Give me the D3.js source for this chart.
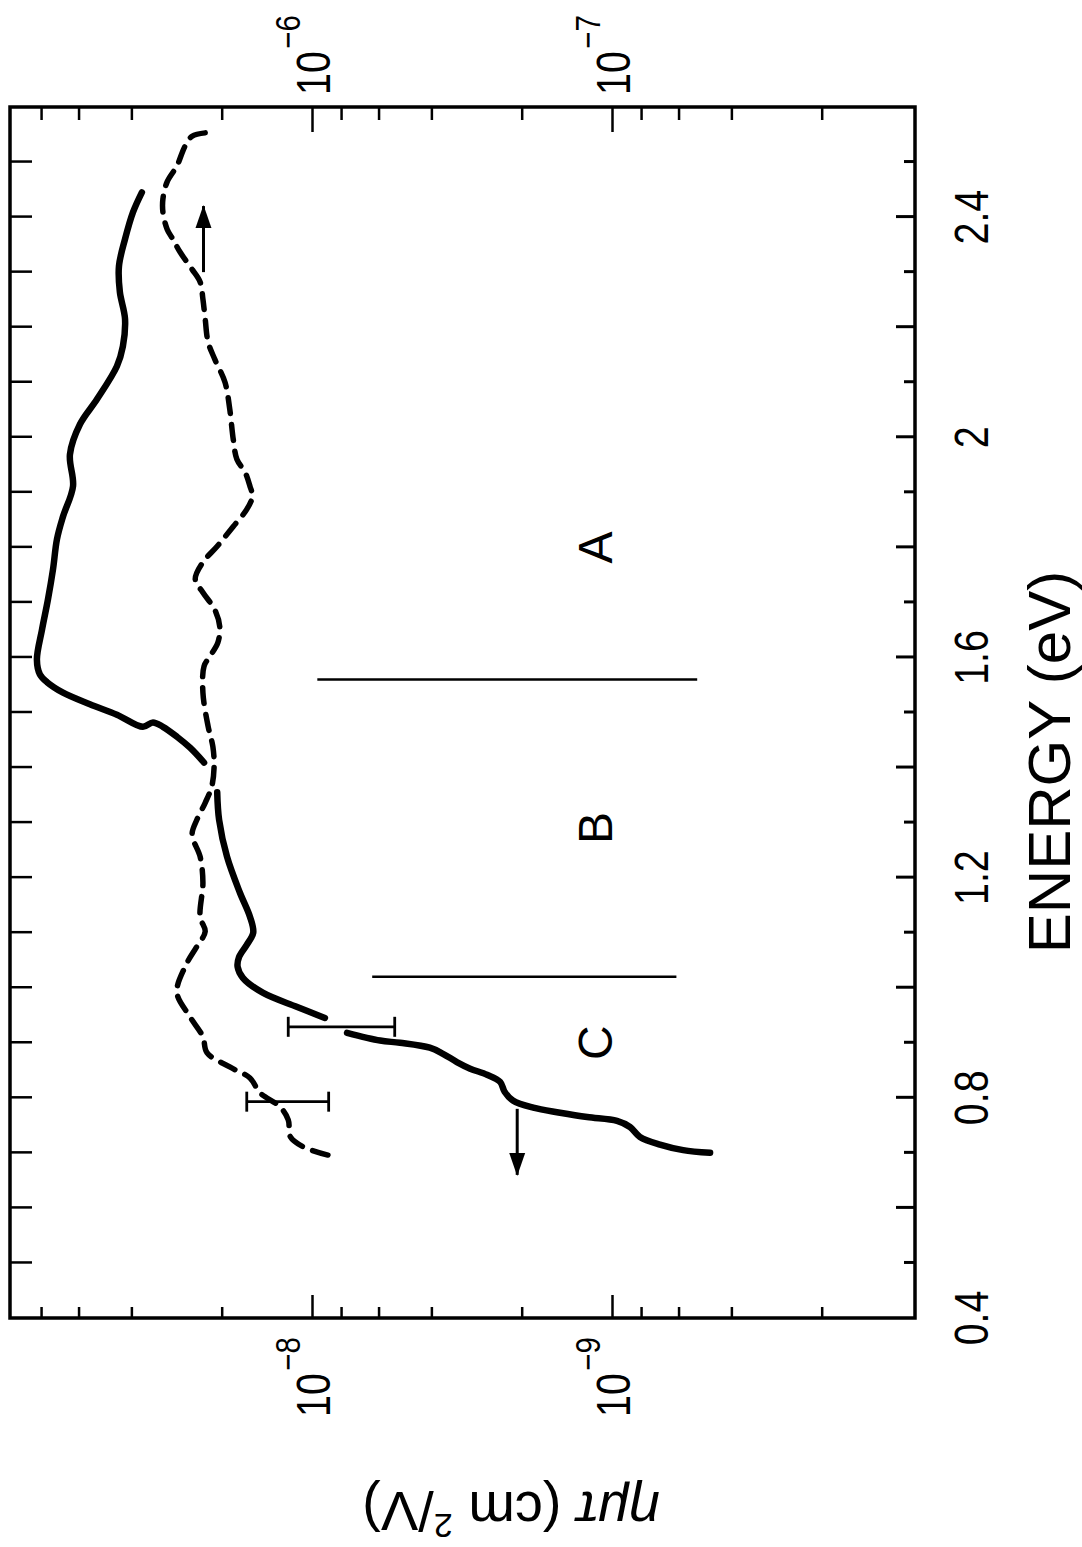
<!DOCTYPE html>
<html lang="en">
<head>
<meta charset="UTF-8">
<title>eta mu tau vs energy</title>
<script src="https://d3js.org/d3.v7.min.js"></script>
<style>
  body { margin: 0; background: #fff; }
  svg { display: block; }
  text { font-family: "Liberation Sans", Arial, Helvetica, sans-serif; fill: #000; }
</style>
</head>
<body>
<div id="chart"></div>
<script>
// solid curve, read against the left (bottom of page) axis; null = break in the pen line
var solidEnergy = [0.700, 0.705, 0.715, 0.729, 0.747, 0.758, 0.765, 0.773, 0.782, 0.795,
    0.811, 0.829, 0.842, 0.853, 0.865, 0.880, 0.891, 0.900, 0.904, 0.918, null,
    0.945, 0.965, 0.991, 1.018, 1.038, 1.056, 1.078, 1.100, 1.129, 1.173, 1.238, 1.305, 1.355, null,
    1.409, 1.436, 1.456, 1.474, 1.482, 1.474, 1.496, 1.515, 1.536, 1.555, 1.569, 1.596,
    1.651, 1.705, 1.760, 1.815, 1.856, 1.911, 1.969, 2.024, 2.069, 2.129, 2.165, 2.215,
    2.264, 2.311, 2.360, 2.409, 2.445];
var solidMuTau = [4.71e-10, 5.79e-10, 6.92e-10, 8.07e-10, 8.71e-10, 9.62e-10, 1.21e-9, 1.49e-9, 1.83e-9, 2.14e-9,
    2.28e-9, 2.36e-9, 2.61e-9, 2.97e-9, 3.29e-9, 3.66e-9, 4.05e-9, 5.09e-9, 5.93e-9, 7.64e-9, null,
    9.06e-9, 1.12e-8, 1.46e-8, 1.70e-8, 1.77e-8, 1.75e-8, 1.65e-8, 1.57e-8, 1.61e-8, 1.74e-8, 1.92e-8, 2.04e-8, 2.07e-8, null,
    2.29e-8, 2.55e-8, 2.82e-8, 3.14e-8, 3.39e-8, 3.66e-8, 4.47e-8, 5.50e-8, 6.76e-8, 7.64e-8, 8.07e-8, 8.26e-8,
    7.94e-8, 7.59e-8, 7.30e-8, 7.08e-8, 6.76e-8, 6.26e-8, 6.41e-8, 5.93e-8, 5.21e-8, 4.47e-8, 4.27e-8, 4.20e-8,
    4.37e-8, 4.40e-8, 4.20e-8, 3.95e-8, 3.69e-8];

// dashed curve, read against the right (top of page) axis
var dashedEnergy = [0.696, 0.711, 0.729, 0.760, 0.784, 0.809, 0.836, 0.856, 0.882, 0.911,
    0.947, 0.991, 1.038, 1.075, 1.102, 1.129, 1.191, 1.238, 1.278, 1.305,
    1.336, 1.365, 1.402, 1.438, 1.475, 1.536, 1.584, 1.602, 1.627, 1.656,
    1.687, 1.718, 1.742, 1.773, 1.802, 1.838, 1.869, 1.893, 1.911, 1.936,
    1.960, 1.996, 2.051, 2.100, 2.142, 2.173, 2.215, 2.251, 2.282, 2.305,
    2.336, 2.360, 2.378, 2.409, 2.433, 2.464, 2.493, 2.529, 2.547, 2.553];
var dashedMuTau = [8.85e-7, 1.07e-6, 1.18e-6, 1.20e-6, 1.28e-6, 1.49e-6, 1.61e-6, 1.88e-6, 2.24e-6, 2.31e-6,
    2.55e-6, 2.82e-6, 2.65e-6, 2.42e-6, 2.27e-6, 2.36e-6, 2.31e-6, 2.36e-6, 2.51e-6, 2.42e-6,
    2.27e-6, 2.16e-6, 2.12e-6, 2.14e-6, 2.22e-6, 2.31e-6, 2.29e-6, 2.19e-6, 2.06e-6, 2.03e-6,
    2.11e-6, 2.31e-6, 2.45e-6, 2.31e-6, 2.07e-6, 1.83e-6, 1.65e-6, 1.58e-6, 1.61e-6, 1.67e-6,
    1.78e-6, 1.83e-6, 1.88e-6, 1.95e-6, 2.11e-6, 2.22e-6, 2.27e-6, 2.31e-6, 2.36e-6, 2.51e-6,
    2.75e-6, 2.91e-6, 3.04e-6, 3.14e-6, 3.14e-6, 3.04e-6, 2.82e-6, 2.65e-6, 2.51e-6, 2.27e-6];

// error bars
var errEnergy = [0.929, 0.793];
var errHigh = [1.2e-8, 1.65e-6];
var errLow = [5.3e-9, 8.8e-7];
var errAxis = ["left", "right"];

// arrows telling which axis a curve belongs to
var arrowFrom = [2.30, 0.78];
var arrowTo = [2.42, 0.66];
var arrowLevel = [2.3e-6, 2.07e-9];
var arrowAxis = ["right", "left"];

// region boundaries and labels
var regionEnergy = [1.56, 1.02];
var regionTop = [9.6e-9, 6.3e-9];
var regionBottom = [5.2e-10, 6.1e-10];
var regionLabels = ["A", "B", "C"];
var regionLabelEnergy = [1.80, 1.29, 0.90];
var regionLabelLevel = 1e-9;

// axis labels
var energyLabels = [0.4, 0.8, 1.2, 1.6, 2.0, 2.4];
var energyLabelText = ["0.4", "0.8", "1.2", "1.6", "2", "2.4"];
var leftLabelValues = [1e-8, 1e-9];
var leftLabelExp = ["\u22128", "\u22129"];
var rightLabelValues = [1e-6, 1e-7];
var rightLabelExp = ["\u22126", "\u22127"];

var width = 1082, height = 1547;
var W = 1211, H = 905;   // plot size before the page is turned

var svg = d3.select("#chart").append("svg")
    .attr("width", width)
    .attr("height", height);
svg.append("rect").attr("width", width).attr("height", height).attr("fill", "#fff");

// the figure is printed a quarter turn counter-clockwise
var plot = svg.append("g").attr("transform", "translate(10,1318) rotate(-90)");

var x = d3.scaleLinear().domain([0.4, 2.6]).range([0, W]);
var yLeft = d3.scaleLog().domain([1e-10, 1e-7]).range([902, 2]);
var yRight = d3.scaleLog().domain([1e-8, 1e-5]).range([902, 2]);
function yOf(axis) { return axis === "left" ? yLeft : yRight; }

function minorTicks(lo, n) {
    var t = [];
    for (var i = 0; i < n; i++) {
        var d = lo * Math.pow(10, i);
        [2, 4, 6, 8].forEach(function(m) { t.push(m * d); });
    }
    return t;
}

function ticks(axis, transform, values, size, w) {
    plot.append("g")
        .attr("transform", transform)
        .call(axis.tickValues(values).tickSize(size).tickFormat(""))
        .call(function(g) { g.select(".domain").remove(); })
        .selectAll("line").attr("stroke", "#000").attr("stroke-width", w);
}

ticks(d3.axisLeft(yLeft), null, [1e-9, 1e-8], -23, 2.5);
ticks(d3.axisLeft(yLeft), null, minorTicks(1e-10, 3), -11, 2.5);
ticks(d3.axisRight(yRight), "translate(" + W + ",0)", [1e-7, 1e-6], -25, 2.5);
ticks(d3.axisRight(yRight), "translate(" + W + ",0)", minorTicks(1e-8, 3), -13, 2.5);

var eMajor = d3.range(6, 25, 2).map(function(d) { return d / 10; });
var eMinor = d3.range(5, 26, 2).map(function(d) { return d / 10; });
ticks(d3.axisBottom(x), "translate(0," + H + ")", eMajor, -19, 3);
ticks(d3.axisBottom(x), "translate(0," + H + ")", eMinor, -11, 3);
ticks(d3.axisTop(x), null, eMajor.concat(eMinor), -22, 2.5);

plot.append("rect")
    .attr("width", W)
    .attr("height", H)
    .attr("fill", "none")
    .attr("stroke", "#000")
    .attr("stroke-width", 3.5);

// energy tick labels
plot.selectAll("text.elabel")
    .data(energyLabels)
    .enter().append("text")
    .attr("class", "elabel")
    .attr("transform", function(d) { return "translate(" + x(d) + "," + (H + 73) + ") scale(0.82,1)"; })
    .attr("text-anchor", "middle")
    .style("font-size", "48px")
    .text(function(d, i) { return energyLabelText[i]; });

// power-of-ten labels
function powerLabels(values, exps, scale, ux, anchor) {
    values.forEach(function(v, i) {
        var t = plot.append("text")
            .attr("transform", "translate(" + ux + "," + (scale(v) + 18) + ") scale(0.82,1)")
            .attr("text-anchor", anchor);
        t.append("tspan").style("font-size", "48px").text("10");
        t.append("tspan").style("font-size", "36px").attr("dx", 3).attr("dy", -30).text(exps[i]);
    });
}
powerLabels(leftLabelValues, leftLabelExp, yLeft, -19, "end");
powerLabels(rightLabelValues, rightLabelExp, yRight, W + 12, "start");

// axis titles
plot.append("text")
    .attr("x", 556)
    .attr("y", 1060)
    .attr("text-anchor", "middle")
    .style("font-size", "60px")
    .text("ENERGY (eV)");

var yt = plot.append("text")
    .attr("transform", "translate(-174,501) rotate(-90)")
    .attr("text-anchor", "middle")
    .style("font-size", "56px");
yt.append("tspan").style("font-style", "italic").text("\u03b7\u03bc\u03c4");
yt.append("tspan").text(" (cm ");
yt.append("tspan").style("font-size", "34px").attr("dy", -22).text("2");
yt.append("tspan").attr("dy", 22).text("/V)");

// region boundaries and labels
regionEnergy.forEach(function(e, i) {
    plot.append("line")
        .attr("x1", x(e)).attr("x2", x(e))
        .attr("y1", yLeft(regionTop[i])).attr("y2", yLeft(regionBottom[i]))
        .attr("stroke", "#000")
        .attr("stroke-width", 2.5);
});
plot.selectAll("text.region")
    .data(regionLabels)
    .enter().append("text")
    .attr("class", "region")
    .attr("x", function(d, i) { return x(regionLabelEnergy[i]); })
    .attr("y", yLeft(regionLabelLevel))
    .attr("text-anchor", "middle")
    .style("font-size", "48px")
    .text(function(d) { return d; });

// curves
var solidLine = d3.line()
    .defined(function(d) { return d[1] != null; })
    .x(function(d) { return x(d[0]); })
    .y(function(d) { return yLeft(d[1]); })
    .curve(d3.curveCatmullRom);

var dashedLine = d3.line()
    .x(function(d) { return x(d[0]); })
    .y(function(d) { return yRight(d[1]); })
    .curve(d3.curveCatmullRom);

plot.append("path")
    .datum(d3.zip(solidEnergy, solidMuTau))
    .attr("d", solidLine)
    .attr("fill", "none")
    .attr("stroke", "#000")
    .attr("stroke-width", 6.5)
    .attr("stroke-linecap", "round")
    .attr("stroke-linejoin", "round");

plot.append("path")
    .datum(d3.zip(dashedEnergy, dashedMuTau))
    .attr("d", dashedLine)
    .attr("fill", "none")
    .attr("stroke", "#000")
    .attr("stroke-width", 5.5)
    .attr("stroke-dasharray", "16,11")
    .attr("stroke-linecap", "round")
    .attr("stroke-linejoin", "round");

// error bars
errEnergy.forEach(function(e, i) {
    var y = yOf(errAxis[i]);
    var g = plot.append("g").attr("stroke", "#000").attr("stroke-width", 2.8);
    g.append("line").attr("x1", x(e)).attr("x2", x(e)).attr("y1", y(errHigh[i])).attr("y2", y(errLow[i]));
    [errHigh[i], errLow[i]].forEach(function(v) {
        g.append("line").attr("x1", x(e) - 10).attr("x2", x(e) + 10).attr("y1", y(v)).attr("y2", y(v));
    });
});

// arrows
svg.append("defs").append("marker")
    .attr("id", "head")
    .attr("markerUnits", "userSpaceOnUse")
    .attr("viewBox", "0 -9 24 18")
    .attr("markerWidth", 24)
    .attr("markerHeight", 18)
    .attr("refX", 22)
    .attr("refY", 0)
    .attr("orient", "auto")
    .append("path")
    .attr("d", "M0,-8L23,0L0,8Z")
    .attr("fill", "#000");

arrowFrom.forEach(function(e, i) {
    var y = yOf(arrowAxis[i]);
    plot.append("line")
        .attr("x1", x(e)).attr("x2", x(arrowTo[i]))
        .attr("y1", y(arrowLevel[i])).attr("y2", y(arrowLevel[i]))
        .attr("stroke", "#000")
        .attr("stroke-width", 3)
        .attr("marker-end", "url(#head)");
});
</script>
</body>
</html>
